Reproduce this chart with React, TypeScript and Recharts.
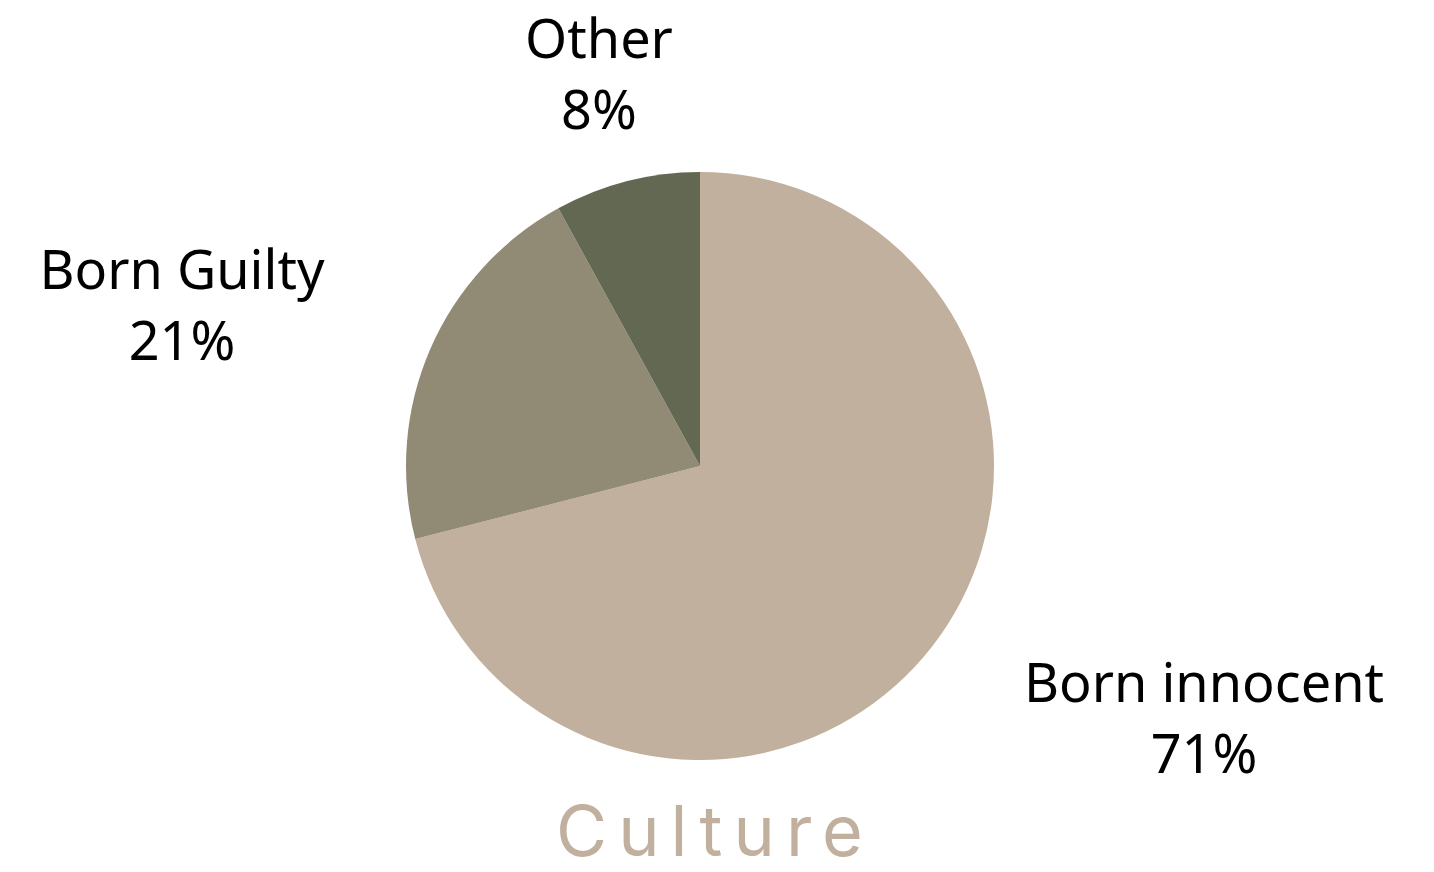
import { PieChart, Pie, Cell } from 'recharts';

const categories = ['Born innocent', 'Born Guilty', 'Other'];
const shares = [71, 21, 8];
const colors = ['#C1B09E', '#918A74', '#636852'];

const data = categories.map((name, i) => ({ name, value: shares[i] }));

// where each label sits relative to the pie centre (first baseline)
const labelOffset: Record<string, { dx: number; dy: number }> = {
  'Born innocent': { dx: 504, dy: 236 },
  'Born Guilty': { dx: -518, dy: -177 },
  Other: { dx: -101, dy: -408 },
};

const renderLabel = (props: any) => {
  const { cx, cy, name, value } = props;
  const o = labelOffset[name];
  const x = cx + o.dx;
  const y = cy + o.dy;
  return (
    <text
      x={x}
      y={y}
      textAnchor="middle"
      fill="#000"
      style={{ fontFamily: 'Noto Sans', fontSize: 54 }}
    >
      <tspan x={x} y={y}>{name}</tspan>
      <tspan x={x} y={y + 71}>{value}%</tspan>
    </text>
  );
};

export default function App() {
  return (
    <div style={{ position: 'relative', width: 1434, height: 872 }}>
      <style>{`body{margin:0;background:#fff}`}</style>
      <PieChart width={1434} height={872}>
        <Pie
          data={data}
          dataKey="value"
          nameKey="name"
          cx={695}
          cy={461}
          outerRadius={294}
          startAngle={90}
          endAngle={-270}
          stroke="none"
          label={renderLabel}
          labelLine={false}
          isAnimationActive={false}
        >
          {data.map((d, i) => (
            <Cell key={d.name} fill={colors[i]} />
          ))}
        </Pie>
        <text
          x={715}
          y={856}
          textAnchor="middle"
          fill="#C1B09E"
          style={{ fontFamily: 'Inter', fontSize: 70, letterSpacing: 11 }}
        >
          Culture
        </text>
      </PieChart>
    </div>
  );
}
